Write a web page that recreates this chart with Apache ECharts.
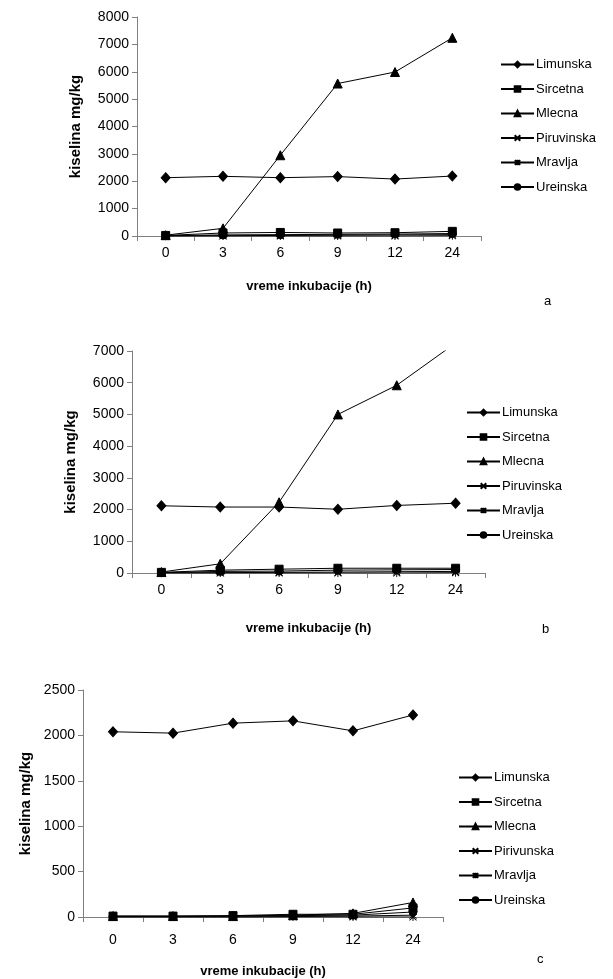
<!DOCTYPE html>
<html><head><meta charset="utf-8">
<script src="https://cdn.jsdelivr.net/npm/echarts@6/dist/echarts.min.js"></script>
<style>html,body{margin:0;padding:0;background:#fff}#c{width:613px;height:979px}</style>
</head><body><div id="c"></div>
<script>
const categories = ['0','3','6','9','12','24'];
const seriesNames = ['Limunska','Sircetna','Mlecna','Piruvinska','Mravlja','Ureinska'];
const legendNamesC = ['Limunska','Sircetna','Mlecna','Pirivunska','Mravlja','Ureinska'];

// chart a
const aLimunska   = [2130, 2180, 2130, 2170, 2080, 2190];
const aSircetna   = [20, 110, 130, 110, 120, 170];
const aMlecna     = [30, 280, 2950, 5570, 5990, 7240];
const aPiruvinska = [0, 10, 20, 30, 40, 50];
const aMravlja    = [0, 0, 0, 0, 0, 10];
const aUreinska   = [10, 40, 50, 60, 70, 90];
// chart b
const bLimunska   = [2120, 2080, 2080, 2010, 2130, 2200];
const bSircetna   = [20, 90, 120, 150, 150, 150];
const bMlecna     = [30, 290, 2230, 5000, 5920, 7250];
const bPiruvinska = [0, 10, 20, 30, 40, 50];
const bMravlja    = [0, 0, 0, 0, 0, 10];
const bUreinska   = [10, 50, 60, 90, 100, 110];
// chart c
const cLimunska   = [2040, 2025, 2135, 2160, 2050, 2225];
const cSircetna   = [10, 10, 15, 30, 30, 100];
const cMlecna     = [10, 10, 10, 20, 40, 160];
const cPiruvinska = [0, 0, 0, 5, 10, 20];
const cMravlja    = [0, 0, 0, 0, 0, 0];
const cUreinska   = [5, 5, 10, 15, 20, 55];

const yMaxA = 8000, yMaxB = 7000, yMaxC = 2500;
const yIntA = 1000, yIntB = 1000, yIntC = 500;

const crossPath = 'path://M0,0L10,10M10,0L0,10';
const starPath = 'path://M0,0L10,10M10,0L0,10M5,-1L5,11';
const symbols = {
  Limunska: ['diamond', [9, 10]],
  Sircetna: ['rect', [8, 8]],
  Mlecna: ['triangle', [9, 9]],
  Piruvinska: [crossPath, [7, 7]],
  Mravlja: [starPath, [7, 8]],
  Ureinska: ['circle', [8, 8]]
};

const chart = echarts.init(document.getElementById('c'), null, {renderer: 'canvas'});

const grids = [
  {left: 137, top: 17, width: 344, height: 219},
  {left: 132, top: 351, width: 353, height: 222},
  {left: 83, top: 690, width: 360, height: 227}
];
const font = 'Arial, "Liberation Sans", sans-serif';
const axisColor = '#808080';

function xAxis(i, margin, nameGap) {
  return {
    type: 'category', gridIndex: i, data: categories, boundaryGap: true,
    axisLine: {lineStyle: {color: axisColor, width: 1}},
    axisTick: {show: true, alignWithLabel: false, length: 5, lineStyle: {color: axisColor}},
    axisLabel: {color: '#000', fontSize: 14, fontFamily: font, margin: margin},
    name: 'vreme inkubacije (h)', nameLocation: 'middle', nameGap: nameGap,
    nameTextStyle: {color: '#000', fontSize: 13, fontWeight: 'bold', fontFamily: font}
  };
}
function yAxis(i, max, interval, nameGap) {
  return {
    type: 'value', gridIndex: i, min: 0, max: max, interval: interval,
    axisLine: {show: true, lineStyle: {color: axisColor, width: 1}},
    axisTick: {show: true, length: 5, lineStyle: {color: axisColor}},
    splitLine: {show: false},
    axisLabel: {color: '#000', fontSize: 14, fontFamily: font, margin: 8, formatter: v => String(v)},
    name: 'kiselina mg/kg', nameLocation: 'middle', nameGap: nameGap, nameRotate: 90,
    nameTextStyle: {color: '#000', fontSize: 15, fontWeight: 'bold', fontFamily: font}
  };
}

const data = [
  [aLimunska, aSircetna, aMlecna, aPiruvinska, aMravlja, aUreinska],
  [bLimunska, bSircetna, bMlecna, bPiruvinska, bMravlja, bUreinska],
  [cLimunska, cSircetna, cMlecna, cPiruvinska, cMravlja, cUreinska]
];
const series = [];
data.forEach((set, gi) => {
  set.forEach((vals, si) => {
    const key = seriesNames[si];
    const nm = gi === 2 ? legendNamesC[si] : key;
    series.push({
      name: nm, type: 'line', xAxisIndex: gi, yAxisIndex: gi, data: vals,
      symbol: symbols[key][0], symbolSize: symbols[key][1], showAllSymbol: true,
      clip: true, animation: false,
      lineStyle: {color: '#000', width: 1},
      itemStyle: {color: '#000', borderColor: '#000', borderWidth: 1}
    });
  });
});

function legend(i, left, top, names) {
  return {
    orient: 'vertical', left: left, top: top, itemWidth: 33, itemHeight: 7, itemGap: 11.5,
    data: names.map(n => ({name: n})),
    textStyle: {color: '#000', fontSize: 13, fontFamily: font, padding: [0,0,0,-3]},
    selectedMode: false
  };
}

chart.setOption({
  backgroundColor: '#fff',
  animation: false,
  grid: grids,
  xAxis: [xAxis(0, 10, 44), xAxis(1, 10, 49), xAxis(2, 16, 48)],
  yAxis: [yAxis(0, yMaxA, yIntA, 54), yAxis(1, yMaxB, yIntB, 54), yAxis(2, yMaxC, yIntC, 44)],
  legend: [
    legend(0, 495, 53, seriesNames),
    legend(1, 461, 401, seriesNames),
    legend(2, 453, 766, legendNamesC)
  ],
  graphic: [
    {type: 'text', left: 544, top: 295, style: {text: 'a', fontSize: 13, fontFamily: font, fill: '#000'}},
    {type: 'text', left: 542, top: 623, style: {text: 'b', fontSize: 13, fontFamily: font, fill: '#000'}},
    {type: 'text', left: 537, top: 953, style: {text: 'c', fontSize: 13, fontFamily: font, fill: '#000'}}
  ],
  series: series
});
</script></body></html>
